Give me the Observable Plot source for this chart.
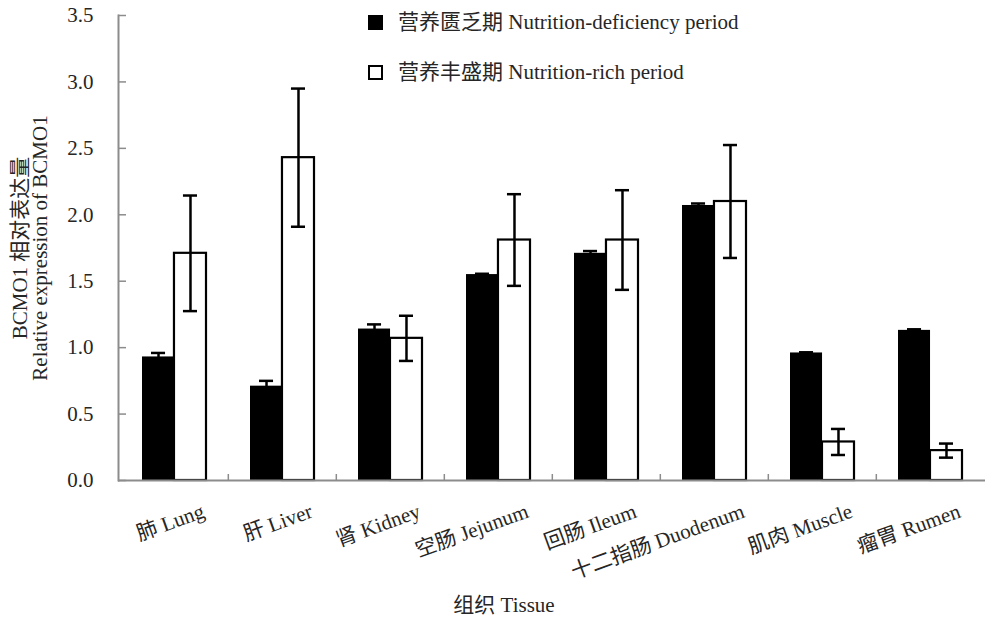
<!DOCTYPE html>
<html>
<head>
<meta charset="utf-8">
<script src="https://cdn.jsdelivr.net/npm/d3@7"></script>
<script src="https://cdn.jsdelivr.net/npm/@observablehq/plot@0.6"></script>
<style>
  html, body { margin: 0; padding: 0; background: #fff; }
  #wrap { position: relative; width: 985px; height: 619px; font-family: "Liberation Serif", "Noto Sans CJK SC", serif; color: #262626; }
  #legend { position: absolute; left: 368px; top: 11px; font-size: 21px; line-height: 22px; }
  .row { display: flex; align-items: center; height: 22px; margin-bottom: 28px; white-space: nowrap; }
  .sw { width: 15px; height: 15px; box-sizing: border-box; margin-right: 15px; border: 2.5px solid #000; flex: none; }
</style>
</head>
<body>
<div id="wrap"><div id="legend"></div></div>
<script>
const tissues = ["肺 Lung", "肝 Liver", "肾 Kidney", "空肠 Jejunum", "回肠 Ileum", "十二指肠 Duodenum", "肌肉 Muscle", "瘤胃 Rumen"];
const deficiencyMean = [0.93, 0.71, 1.14, 1.55, 1.71, 2.07, 0.96, 1.13];
const deficiencyErr  = [0.03, 0.04, 0.035, 0.006, 0.017, 0.015, 0.005, 0.008];
const richMean = [1.71, 2.43, 1.07, 1.81, 1.81, 2.10, 0.29, 0.225];
const richErr  = [0.435, 0.52, 0.17, 0.345, 0.375, 0.425, 0.098, 0.053];
const seriesNames = ["营养匮乏期 Nutrition-deficiency period", "营养丰盛期 Nutrition-rich period"];
const seriesFill = ["#000000", "#ffffff"];
const yTicks = [0, 0.5, 1.0, 1.5, 2.0, 2.5, 3.0, 3.5];
const yTitle = "BCMO1 相对表达量\nRelative expression of BCMO1";
const xTitle = "组织 Tissue";

const W = 985, H = 619, mL = 118, mR = 0, mT = 15, mB = 139;
const padInner = 0.41;
const step = (W - mL - mR) / tissues.length;
const bw = step * (1 - padInner);
const half = bw / 2;
const q = half / 2;
const cap = 7;

const rows = [];
tissues.forEach((t, i) => {
  rows.push({tissue: t, series: 0, v: deficiencyMean[i], e: deficiencyErr[i]});
  rows.push({tissue: t, series: 1, v: richMean[i], e: richErr[i]});
});
const def = rows.filter(d => d.series === 0);
const rich = rows.filter(d => d.series === 1);
const font = '"Liberation Serif", "Noto Sans CJK SC", serif';
const axisGray = "#8c8c8c";
const ink = "#262626";

function errorMarks(data, offset) {
  const inL = half + offset - cap, inR = bw - (half + offset) - cap;
  return [
    Plot.ruleX(data, {x: "tissue", y1: d => d.v - d.e, y2: d => d.v + d.e, dx: offset, stroke: "#000", strokeWidth: 2.5}),
    Plot.tickY(data, {x: "tissue", y: d => d.v + d.e, insetLeft: inL, insetRight: inR, stroke: "#000", strokeWidth: 2.5}),
    Plot.tickY(data, {x: "tissue", y: d => d.v - d.e, insetLeft: inL, insetRight: inR, stroke: "#000", strokeWidth: 2.5})
  ];
}

const chart = Plot.plot({
  width: W, height: H,
  marginLeft: mL, marginRight: mR, marginTop: mT, marginBottom: mB,
  style: {fontFamily: font, fontSize: "21px", color: ink, background: "white"},
  x: {domain: tissues, paddingInner: padInner, paddingOuter: padInner / 2},
  y: {domain: [0, 3.5]},
  marks: [
    Plot.barY(def, {x: "tissue", y: "v", fill: seriesFill[0], insetRight: half}),
    Plot.barY(rich, {x: "tissue", y: "v", fill: seriesFill[1], stroke: "#000", strokeWidth: 2.2, insetLeft: half}),
    ...errorMarks(def, -q),
    ...errorMarks(rich, q),
    Plot.axisY({ticks: yTicks, tickFormat: d3.format(".1f"), tickSize: -8, tickPadding: 33, stroke: axisGray, strokeWidth: 1.5, fontSize: 21, fill: ink, label: null}),
    Plot.frame({anchor: "left", stroke: axisGray, strokeWidth: 2}),
    Plot.ruleY([0], {stroke: axisGray, strokeWidth: 2}),
    Plot.ruleX(tissues.slice(1), {x: d => d, dx: -step / 2, y1: 0, y2: 0.045, stroke: axisGray, strokeWidth: 1.5}),
    Plot.axisX({tickSize: 0, tickRotate: -20, tickPadding: 30, dx: 29, fontSize: 21, fill: ink, label: null}),
    Plot.text([yTitle], {text: d => d, frameAnchor: "left", textAnchor: "middle", rotate: -90, dx: -88, fontSize: 21, lineHeight: 0.95, fill: ink}),
    Plot.text([xTitle], {text: d => d, frameAnchor: "bottom", textAnchor: "middle", dx: -48, dy: 131, fontSize: 21, fill: ink})
  ]
});
document.getElementById("wrap").appendChild(chart);

const legend = document.getElementById("legend");
seriesNames.forEach((name, i) => {
  const row = document.createElement("div");
  row.className = "row";
  const sw = document.createElement("span");
  sw.className = "sw";
  sw.style.background = seriesFill[i];
  const label = document.createElement("span");
  label.textContent = name;
  row.appendChild(sw);
  row.appendChild(label);
  legend.appendChild(row);
});
</script>
</body>
</html>
